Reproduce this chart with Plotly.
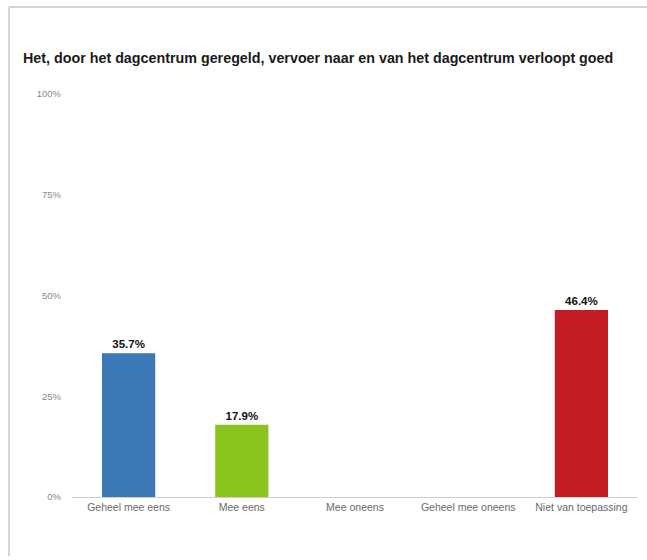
import plotly.graph_objects as go

categories = ["Geheel mee eens", "Mee eens", "Mee oneens", "Geheel mee oneens", "Niet van toepassing"]
percentages = [35.7, 17.9, 0.0, 0.0, 46.4]
bar_colors = ["#3b78b6", "#8cc41f", "#3b78b6", "#3b78b6", "#c41c24"]
tick_values = [0, 25, 50, 75, 100]
tick_labels = ["0%", "25%", "50%", "75%", "100%"]
title_text = "Het, door het dagcentrum geregeld, vervoer naar en van het dagcentrum verloopt goed"

W, H = 647, 560
L, R, T, B = 72, 9, 94, 63

labels = [f"{v:.1f}%" if v > 0 else "" for v in percentages]

fig = go.Figure(
    go.Bar(
        x=categories,
        y=percentages,
        marker=dict(color=bar_colors, line=dict(width=0)),
        text=labels,
        textposition="outside",
        cliponaxis=False,
        textfont=dict(family="Liberation Sans, Arial, sans-serif", size=11.5, color="#111111"),
        texttemplate="<b>%{text}</b>",
    )
)

plot_w = W - L - R
plot_h = H - T - B


def px_x(px):
    return (px - L) / plot_w


def px_y(py):
    return (H - B - py) / plot_h


# light frame along the left and top edges of the chart panel
fig.add_shape(type="line", xref="paper", yref="paper",
              x0=px_x(9), x1=px_x(647), y0=px_y(7), y1=px_y(7),
              line=dict(color="#d4d4d4", width=2))
fig.add_shape(type="line", xref="paper", yref="paper",
              x0=px_x(9), x1=px_x(9), y0=px_y(7), y1=px_y(556),
              line=dict(color="#d4d4d4", width=2))

fig.update_layout(
    width=W,
    height=H,
    margin=dict(l=L, r=R, t=T, b=B),
    paper_bgcolor="white",
    plot_bgcolor="white",
    bargap=0.53,
    showlegend=False,
    title=dict(
        text=f"<b>{title_text}</b>",
        x=23 / W,
        xanchor="left",
        y=1 - 58 / H,
        yanchor="middle",
        font=dict(family="Liberation Sans, Arial, sans-serif", size=14.3, color="#1a1a1a"),
    ),
    xaxis=dict(
        showgrid=False,
        showline=True,
        linecolor="#cfcfcf",
        linewidth=1,
        ticks="",
        tickfont=dict(family="Liberation Sans, Arial, sans-serif", size=10.5, color="#6a6a6a"),
    ),
    yaxis=dict(
        range=[0, 100],
        tickvals=tick_values,
        ticktext=tick_labels,
        showgrid=False,
        zeroline=False,
        showline=False,
        ticks="",
        ticklabelstandoff=10,
        tickfont=dict(family="Liberation Sans, Arial, sans-serif", size=9.5, color="#8a8a8a"),
    ),
)

fig.write_html("out.html")
